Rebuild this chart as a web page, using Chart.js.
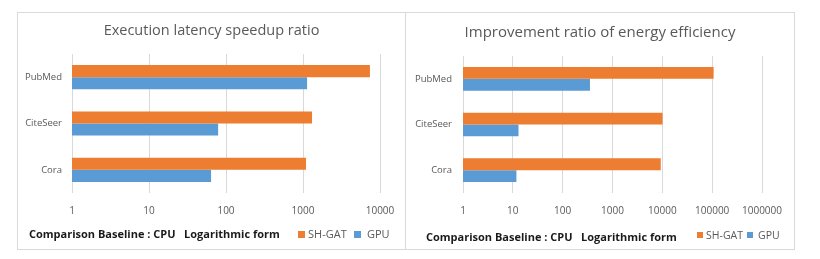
<!DOCTYPE html>
<html>
<head>
<meta charset="utf-8">
<script src="https://cdn.jsdelivr.net/npm/chart.js@4/dist/chart.umd.min.js"></script>
<style>
  html, body { margin: 0; padding: 0; background: #ffffff; }
  body { width: 820px; height: 259px; position: relative; overflow: hidden; font-family: "Open Sans", "Noto Sans", sans-serif; }
  .box { position: absolute; top: 12px; height: 236px; border: 1px solid #d9d9d9; background: #fff; }
  #boxA { left: 17px; width: 387px; }
  #boxB { left: 405px; width: 388px; }
  .box canvas { position: absolute; left: 0; top: 0; }
  .caption { position: absolute; font-weight: bold; color: #1a1a1a; white-space: pre; line-height: 14px; }
  .lg { position: absolute; color: #595959; white-space: pre; line-height: 14px; }
  .sq { position: absolute; }
</style>
</head>
<body>
<div class="box" id="boxA"><canvas id="cA" width="387" height="236"></canvas></div>
<div class="box" id="boxB"><canvas id="cB" width="388" height="236"></canvas></div>

<div class="caption" id="capA" style="left:29px; top:227px; font-size:11px;"></div>
<div class="caption" id="capB" style="left:426px; top:230px; font-size:11px;"></div>

<div class="sq" id="sqA0" style="left:298px; top:231px; width:7px; height:7px;"></div>
<div class="lg" id="lgA0" style="left:308px; top:227px; font-size:11px;"></div>
<div class="sq" id="sqA1" style="left:354px; top:231px; width:7px; height:7px;"></div>
<div class="lg" id="lgA1" style="left:367px; top:227px; font-size:11px;"></div>

<div class="sq" id="sqB0" style="left:697px; top:232px; width:6px; height:6px;"></div>
<div class="lg" id="lgB0" style="left:706px; top:228px; font-size:10.5px;"></div>
<div class="sq" id="sqB1" style="left:747px; top:232px; width:6px; height:6px;"></div>
<div class="lg" id="lgB1" style="left:758px; top:228px; font-size:10.5px;"></div>

<script>
const categories = ['PubMed', 'CiteSeer', 'Cora'];
const seriesNames = ['SH-GAT', 'GPU'];
const latencySHGAT = [7400, 1310, 1095];
const latencyGPU = [1130, 79, 64];
const energySHGAT = [107000, 10100, 9300];
const energyGPU = [353, 13, 11.8];
const latencyTicks = [1, 10, 100, 1000, 10000];
const energyTicks = [1, 10, 100, 1000, 10000, 100000, 1000000];
const titles = ['Execution latency speedup ratio', 'Improvement ratio of energy efficiency'];
const captionText = 'Comparison Baseline : CPU   Logarithmic form';

const ORANGE = '#ED7D31';
const BLUE = '#5B9BD5';
const GREY = '#595959';
const GRID = '#d9d9d9';
const seriesColors = [ORANGE, BLUE];

// HTML captions and legends (real text)
document.getElementById('capA').textContent = captionText;
document.getElementById('capB').textContent = captionText;
['A', 'B'].forEach(k => {
  seriesNames.forEach((n, i) => {
    document.getElementById('lg' + k + i).textContent = n;
    document.getElementById('sq' + k + i).style.background = seriesColors[i];
  });
});

function makeChart(id, title, shgat, gpu, ticks, opts) {
  return new Chart(document.getElementById(id), {
    type: 'bar',
    data: {
      labels: categories,
      datasets: [
        { label: seriesNames[0], data: shgat, backgroundColor: ORANGE, categoryPercentage: 0.52, barPercentage: 1.0 },
        { label: seriesNames[1], data: gpu, backgroundColor: BLUE, categoryPercentage: 0.52, barPercentage: 1.0 }
      ]
    },
    options: {
      indexAxis: 'y',
      responsive: false,
      animation: false,
      devicePixelRatio: 1,
      layout: { padding: { left: 0, right: 0, top: 0, bottom: opts.padBottom } },
      plugins: {
        title: {
          display: true, text: title, color: GREY,
          font: { family: '"Open Sans", sans-serif', size: opts.titleSize, weight: 'normal' },
          padding: { top: opts.titleTop, bottom: opts.titleBottom }
        },
        legend: { display: false },
        tooltip: { enabled: false }
      },
      scales: {
        x: {
          type: 'logarithmic',
          min: ticks[0], max: ticks[ticks.length - 1],
          afterBuildTicks: (s) => { s.ticks = ticks.map(v => ({ value: v })); },
          afterFit: (s) => { s.height = opts.xHeight; s.paddingLeft = 0; s.paddingRight = opts.xPadRight; },
          grid: { color: GRID, lineWidth: 1, drawTicks: false },
          border: { display: false },
          ticks: {
            color: GREY, padding: 12, maxRotation: 0, autoSkip: false,
            font: { family: '"Open Sans", sans-serif', size: 10 },
            callback: (v) => String(v)
          }
        },
        y: {
          afterFit: (s) => { s.width = opts.yWidth; },
          grid: { display: false, drawTicks: false },
          border: { display: false },
          ticks: {
            color: GREY, padding: opts.yPad,
            font: { family: '"Open Sans", sans-serif', size: 9.5 }
          }
        }
      }
    }
  });
}

makeChart('cA', titles[0], latencySHGAT, latencyGPU, latencyTicks,
  { padBottom: 26, titleSize: 14.5, titleTop: 9, titleBottom: 14.6, xHeight: 30, xPadRight: 25, yWidth: 54, yPad: 10 });
makeChart('cB', titles[1], energySHGAT, energyGPU, energyTicks,
  { padBottom: 26, titleSize: 15, titleTop: 11, titleBottom: 14, xHeight: 30, xPadRight: 32, yWidth: 57, yPad: 11 });
</script>
</body>
</html>
